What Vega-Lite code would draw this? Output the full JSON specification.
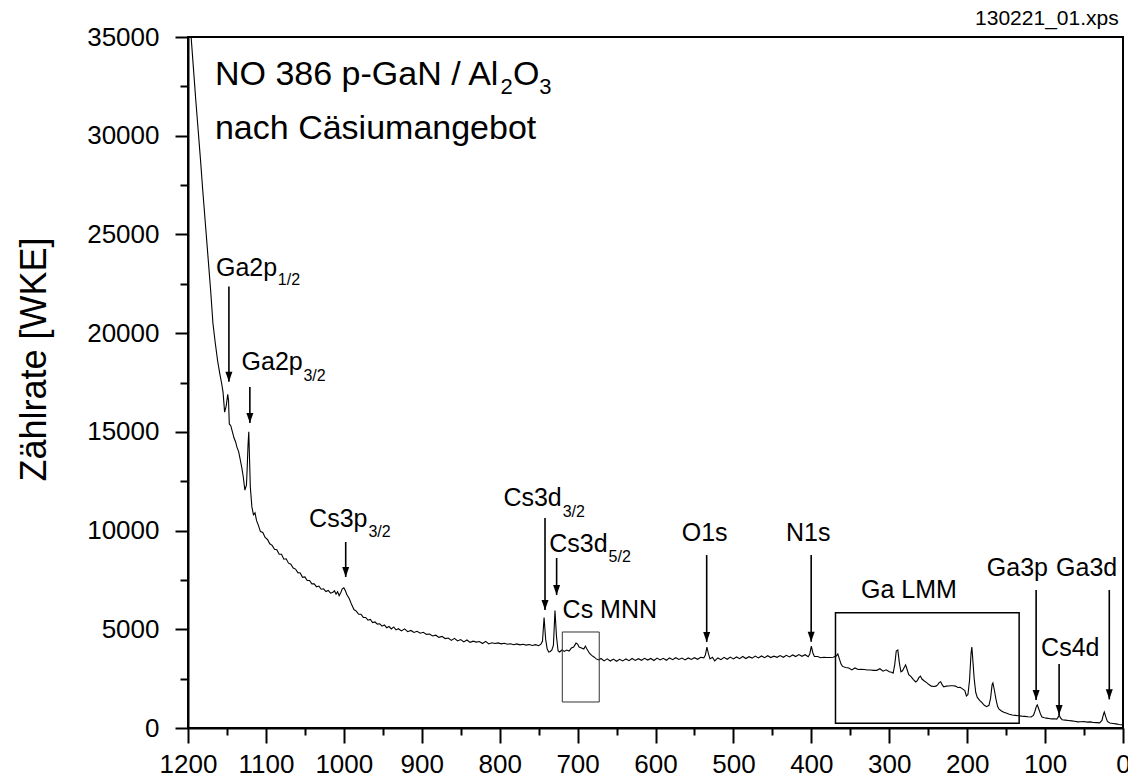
{
"$schema": "https://vega.github.io/schema/vega-lite/v6.json",
"width": 935, "height": 691,
"autosize": {"type": "none"},
"padding": {"left": 188, "top": 37, "right": 5, "bottom": 55},
"background": "white",
"config": {
  "view": {"stroke": "black", "strokeWidth": 2},
  "axis": {"grid": false, "domainColor": "black", "domainWidth": 2, "tickColor": "black", "tickWidth": 2, "labelColor": "black", "labelFont": "Liberation Sans", "labelFontSize": 26, "titleFont": "Liberation Sans", "titleColor": "black", "titleFontWeight": "normal"},
  "text": {"font": "Liberation Sans", "color": "black"}
},
"datasets": {
  "spectrum": [
{"E":1200,"v":37200},{"E":1198,"v":36000},{"E":1196,"v":35000},{"E":1193,"v":33400},{"E":1190,"v":31800},{"E":1187,"v":30300},{"E":1184,"v":28800},{"E":1181,"v":27200},{"E":1177,"v":25200},{"E":1174,"v":23700},{"E":1171,"v":22200},{"E":1168,"v":20500},{"E":1165,"v":19500},{"E":1162,"v":18600},{"E":1159,"v":17900},{"E":1157,"v":17500},{"E":1155,"v":17000},{"E":1153,"v":16000},{"E":1151,"v":16300},{"E":1149,"v":16900},{"E":1148,"v":16600},{"E":1147,"v":15400},{"E":1145,"v":15300},{"E":1143,"v":15000},{"E":1141,"v":14700},{"E":1139,"v":14500},{"E":1137,"v":14200},{"E":1135,"v":14000},{"E":1133,"v":13600},{"E":1131,"v":13200},{"E":1129,"v":12700},{"E":1127,"v":12050},{"E":1125,"v":12300},{"E":1124,"v":13200},{"E":1123,"v":14300},{"E":1122,"v":15000},{"E":1121,"v":13600},{"E":1120,"v":12200},{"E":1118,"v":11200},{"E":1116,"v":10800},{"E":1114,"v":10900},{"E":1112,"v":10500},{"E":1110,"v":10300},{"E":1107,"v":9950},{"E":1104,"v":9900},{"E":1101,"v":9650},{"E":1098,"v":9550},{"E":1095,"v":9330},{"E":1092,"v":9250},{"E":1089,"v":9050},{"E":1086,"v":9030},{"E":1083,"v":8800},{"E":1080,"v":8800},{"E":1077,"v":8550},{"E":1074,"v":8570},{"E":1071,"v":8350},{"E":1068,"v":8300},{"E":1065,"v":8100},{"E":1062,"v":8050},{"E":1059,"v":7870},{"E":1056,"v":7850},{"E":1053,"v":7630},{"E":1050,"v":7650},{"E":1047,"v":7470},{"E":1044,"v":7470},{"E":1041,"v":7300},{"E":1038,"v":7300},{"E":1035,"v":7150},{"E":1032,"v":7190},{"E":1029,"v":7030},{"E":1026,"v":7050},{"E":1023,"v":6910},{"E":1020,"v":6970},{"E":1017,"v":6830},{"E":1014,"v":6870},{"E":1012,"v":6950},{"E":1010,"v":6780},{"E":1008,"v":6900},{"E":1006,"v":6700},{"E":1004,"v":6850},{"E":1002,"v":7050},{"E":1000,"v":7100},{"E":998,"v":6950},{"E":996,"v":6750},{"E":993,"v":6550},{"E":990,"v":6250},{"E":987,"v":6000},{"E":984,"v":5920},{"E":981,"v":5760},{"E":978,"v":5760},{"E":975,"v":5600},{"E":972,"v":5600},{"E":969,"v":5460},{"E":966,"v":5500},{"E":963,"v":5340},{"E":960,"v":5370},{"E":957,"v":5260},{"E":954,"v":5280},{"E":951,"v":5160},{"E":948,"v":5220},{"E":945,"v":5080},{"E":942,"v":5140},{"E":939,"v":5020},{"E":936,"v":5120},{"E":933,"v":4970},{"E":930,"v":5030},{"E":926,"v":4920},{"E":922,"v":5020},{"E":918,"v":4880},{"E":914,"v":4940},{"E":910,"v":4840},{"E":906,"v":4900},{"E":902,"v":4800},{"E":898,"v":4850},{"E":894,"v":4740},{"E":890,"v":4760},{"E":886,"v":4660},{"E":882,"v":4700},{"E":878,"v":4590},{"E":874,"v":4640},{"E":870,"v":4530},{"E":866,"v":4560},{"E":862,"v":4440},{"E":858,"v":4540},{"E":854,"v":4410},{"E":850,"v":4480},{"E":846,"v":4360},{"E":842,"v":4460},{"E":838,"v":4340},{"E":834,"v":4400},{"E":830,"v":4350},{"E":826,"v":4380},{"E":822,"v":4280},{"E":818,"v":4390},{"E":814,"v":4260},{"E":810,"v":4320},{"E":806,"v":4280},{"E":802,"v":4310},{"E":798,"v":4260},{"E":794,"v":4290},{"E":790,"v":4240},{"E":786,"v":4270},{"E":782,"v":4220},{"E":778,"v":4260},{"E":774,"v":4210},{"E":770,"v":4240},{"E":766,"v":4200},{"E":762,"v":4230},{"E":758,"v":4180},{"E":754,"v":4220},{"E":750,"v":4170},{"E":747,"v":4250},{"E":745,"v":4400},{"E":743,"v":5600},{"E":741,"v":4500},{"E":739,"v":4000},{"E":737,"v":3850},{"E":735,"v":3880},{"E":733,"v":3950},{"E":731,"v":4200},{"E":729,"v":5950},{"E":727,"v":4600},{"E":725,"v":3900},{"E":723,"v":3850},{"E":720,"v":3950},{"E":717,"v":3880},{"E":714,"v":3950},{"E":711,"v":3900},{"E":708,"v":4050},{"E":705,"v":4100},{"E":702,"v":4300},{"E":700,"v":4250},{"E":698,"v":4100},{"E":695,"v":4050},{"E":692,"v":4000},{"E":690,"v":4150},{"E":688,"v":4000},{"E":685,"v":3800},{"E":682,"v":3680},{"E":679,"v":3600},{"E":676,"v":3500},{"E":673,"v":3450},{"E":670,"v":3520},{"E":666,"v":3400},{"E":662,"v":3500},{"E":658,"v":3390},{"E":654,"v":3490},{"E":650,"v":3380},{"E":646,"v":3480},{"E":642,"v":3400},{"E":638,"v":3500},{"E":634,"v":3410},{"E":630,"v":3520},{"E":626,"v":3420},{"E":622,"v":3510},{"E":618,"v":3430},{"E":614,"v":3530},{"E":610,"v":3440},{"E":606,"v":3520},{"E":602,"v":3420},{"E":598,"v":3540},{"E":594,"v":3450},{"E":590,"v":3530},{"E":586,"v":3430},{"E":582,"v":3550},{"E":578,"v":3460},{"E":574,"v":3560},{"E":570,"v":3470},{"E":566,"v":3540},{"E":562,"v":3450},{"E":558,"v":3550},{"E":554,"v":3470},{"E":550,"v":3560},{"E":546,"v":3480},{"E":542,"v":3580},{"E":538,"v":3550},{"E":536,"v":3700},{"E":534,"v":4100},{"E":532,"v":3750},{"E":530,"v":3500},{"E":527,"v":3580},{"E":524,"v":3400},{"E":520,"v":3550},{"E":516,"v":3460},{"E":512,"v":3580},{"E":508,"v":3480},{"E":504,"v":3590},{"E":500,"v":3500},{"E":496,"v":3600},{"E":492,"v":3510},{"E":488,"v":3620},{"E":484,"v":3520},{"E":480,"v":3610},{"E":476,"v":3540},{"E":472,"v":3640},{"E":468,"v":3550},{"E":464,"v":3650},{"E":460,"v":3560},{"E":456,"v":3660},{"E":452,"v":3570},{"E":448,"v":3640},{"E":444,"v":3580},{"E":440,"v":3670},{"E":436,"v":3580},{"E":432,"v":3680},{"E":428,"v":3600},{"E":424,"v":3700},{"E":420,"v":3620},{"E":416,"v":3720},{"E":412,"v":3630},{"E":408,"v":3710},{"E":404,"v":3610},{"E":402,"v":3750},{"E":400,"v":4150},{"E":398,"v":3800},{"E":396,"v":3620},{"E":392,"v":3620},{"E":388,"v":3560},{"E":384,"v":3580},{"E":380,"v":3570},{"E":376,"v":3570},{"E":372,"v":3580},{"E":368,"v":3640},{"E":366,"v":3750},{"E":364,"v":3500},{"E":362,"v":3250},{"E":360,"v":3120},{"E":356,"v":3060},{"E":352,"v":3040},{"E":348,"v":2940},{"E":344,"v":3040},{"E":340,"v":2960},{"E":336,"v":2970},{"E":332,"v":2960},{"E":328,"v":2940},{"E":324,"v":2940},{"E":320,"v":2920},{"E":316,"v":2920},{"E":312,"v":3000},{"E":308,"v":2880},{"E":304,"v":2950},{"E":300,"v":2850},{"E":297,"v":2820},{"E":295,"v":2780},{"E":293,"v":3200},{"E":291,"v":3900},{"E":289,"v":3950},{"E":287,"v":3300},{"E":285,"v":2850},{"E":283,"v":2900},{"E":281,"v":3050},{"E":279,"v":3200},{"E":277,"v":2950},{"E":275,"v":2700},{"E":272,"v":2600},{"E":269,"v":2450},{"E":266,"v":2330},{"E":264,"v":2400},{"E":262,"v":2550},{"E":260,"v":2630},{"E":258,"v":2480},{"E":255,"v":2380},{"E":252,"v":2300},{"E":249,"v":2200},{"E":246,"v":2120},{"E":243,"v":2100},{"E":240,"v":2120},{"E":238,"v":2180},{"E":236,"v":2300},{"E":234,"v":2340},{"E":232,"v":2180},{"E":230,"v":2080},{"E":227,"v":2120},{"E":224,"v":2130},{"E":221,"v":2140},{"E":218,"v":2140},{"E":215,"v":2120},{"E":212,"v":2050},{"E":209,"v":2060},{"E":206,"v":1980},{"E":203,"v":1900},{"E":201,"v":1620},{"E":199,"v":1700},{"E":197,"v":2400},{"E":195,"v":3800},{"E":194,"v":4100},{"E":193,"v":3600},{"E":191,"v":2500},{"E":189,"v":1800},{"E":187,"v":1550},{"E":184,"v":1400},{"E":181,"v":1280},{"E":178,"v":1150},{"E":175,"v":1080},{"E":172,"v":1150},{"E":170,"v":1500},{"E":168,"v":2200},{"E":167,"v":2280},{"E":165,"v":1900},{"E":163,"v":1450},{"E":161,"v":1100},{"E":159,"v":950},{"E":156,"v":860},{"E":153,"v":800},{"E":150,"v":760},{"E":146,"v":700},{"E":142,"v":660},{"E":138,"v":640},{"E":134,"v":620},{"E":130,"v":600},{"E":126,"v":590},{"E":122,"v":570},{"E":118,"v":560},{"E":115,"v":640},{"E":113,"v":850},{"E":111,"v":1120},{"E":110,"v":1170},{"E":108,"v":950},{"E":106,"v":720},{"E":104,"v":560},{"E":101,"v":520},{"E":98,"v":500},{"E":95,"v":480},{"E":92,"v":460},{"E":88,"v":470},{"E":85,"v":450},{"E":83,"v":560},{"E":82,"v":660},{"E":80,"v":500},{"E":78,"v":420},{"E":74,"v":400},{"E":70,"v":380},{"E":66,"v":360},{"E":62,"v":340},{"E":58,"v":310},{"E":54,"v":320},{"E":50,"v":330},{"E":46,"v":300},{"E":42,"v":310},{"E":38,"v":280},{"E":34,"v":270},{"E":30,"v":260},{"E":27,"v":380},{"E":25,"v":700},{"E":24,"v":810},{"E":22,"v":550},{"E":20,"v":330},{"E":17,"v":250},{"E":13,"v":230},{"E":9,"v":210},{"E":5,"v":180},{"E":0,"v":150}
  ],
  "arrows": [
{"E":1147.5,"top":22360,"tip":17540},{"E":1120.6,"top":17270,"tip":15450},{"E":997.6,"top":9420,"tip":7650},{"E":741.8,"top":10640,"tip":5980},{"E":726.9,"top":8610,"tip":6740},{"E":534.3,"top":8760,"tip":4360},{"E":400.2,"top":8760,"tip":4370},{"E":111.5,"top":6990,"tip":1420},{"E":82.0,"top":3240,"tip":660},{"E":17.6,"top":6990,"tip":1450}
  ],
  "boxes": [
{"name":"Ga LMM","E1":369,"E2":133.3,"v1":238,"v2":5840},
{"name":"Cs MNN","E1":719.6,"E2":672.2,"v1":1317,"v2":4863}
  ],
  "labels": [
{"E":1164.1,"v":22900,"t":"Ga2p"},{"E":1131.2,"v":18140,"t":"Ga2p"},{"E":1044.6,"v":10200,"t":"Cs3p"},{"E":795.2,"v":11260,"t":"Cs3d"},{"E":736.3,"v":8930,"t":"Cs3d"},{"E":719.2,"v":5560,"t":"Cs MNN"},{"E":566.3,"v":9470,"t":"O1s"},{"E":432.6,"v":9470,"t":"N1s"},{"E":336.2,"v":6570,"t":"Ga LMM"},{"E":174.8,"v":7700,"t":"Ga3p"},{"E":85.9,"v":7700,"t":"Ga3d"},{"E":105.1,"v":3650,"t":"Cs4d"}
  ],
  "subs": [
{"E":1084.7,"v":22440,"t":"1/2"},{"E":1051.8,"v":17580,"t":"3/2"},{"E":968.5,"v":9680,"t":"3/2"},{"E":719.1,"v":10700,"t":"3/2"},{"E":660.2,"v":8420,"t":"5/2"}
  ],
  "title": [
{"E":1165.4,"v":32570,"t":"NO 386 p-GaN / Al"},{"E":783.0,"v":32570,"t":"O"},{"E":1165.4,"v":29840,"t":"nach Cäsiumangebot"}
  ],
  "titleSub": [
{"E":799.0,"v":32120,"t":"2"},{"E":749.1,"v":32120,"t":"3"}
  ],
  "file": [
{"E":5.5,"v":35610,"t":"130221_01.xps"}
  ]
},
"layer": [
  {
    "data": {"name": "spectrum"},
    "mark": {"type": "line", "color": "black", "strokeWidth": 1.1, "clip": true},
    "encoding": {
      "x": {"field": "E", "type": "quantitative", "sort": null, "scale": {"domain": [0, 1200], "reverse": true, "nice": false, "zero": false},
        "axis": {"orient": "bottom", "values": [0,100,200,300,400,500,600,700,800,900,1000,1100,1200], "tickSize": 15, "labelPadding": 8, "title": null, "labelFlush": false, "labelOverlap": false, "format": "d"}},
      "y": {"field": "v", "type": "quantitative", "scale": {"domain": [0, 35000], "nice": false, "zero": false},
        "axis": {"orient": "left", "values": [0,5000,10000,15000,20000,25000,30000,35000], "tickSize": 13, "labelPadding": 16, "format": "d", "labelFlush": false, "labelOverlap": false,
          "title": "Zählrate [WKE]", "titleFontSize": 36, "titleX": -143, "titleY": 322, "titleAngle": -90, "titleAlign": "center", "titleBaseline": "alphabetic"}}
    }
  },
  {
    "data": {"name": "boxes"},
    "transform": [{"filter": "datum.name === 'Ga LMM'"}],
    "mark": {"type": "rect", "fillOpacity": 0, "stroke": "black", "strokeWidth": 1.5},
    "encoding": {
      "x": {"field": "E1", "type": "quantitative", "scale": {"domain": [0, 1200], "reverse": true, "nice": false, "zero": false},
        "axis": {"orient": "bottom", "values": [50,150,250,350,450,550,650,750,850,950,1050,1150], "tickSize": 7, "labels": false, "domain": false, "title": null}},
      "x2": {"field": "E2"},
      "y": {"field": "v1", "type": "quantitative", "scale": {"domain": [0, 35000], "nice": false, "zero": false},
        "axis": {"orient": "left", "values": [2500,7500,12500,17500,22500,27500,32500], "tickSize": 8, "labels": false, "domain": false, "title": null}},
      "y2": {"field": "v2"}
    }
  },
  {
    "data": {"name": "boxes"},
    "transform": [{"filter": "datum.name === 'Cs MNN'"}],
    "mark": {"type": "rect", "fillOpacity": 0, "stroke": "#333333", "strokeWidth": 1},
    "encoding": {
      "x": {"field": "E1", "type": "quantitative", "scale": {"domain": [0, 1200], "reverse": true, "nice": false, "zero": false}, "axis": null},
      "x2": {"field": "E2"},
      "y": {"field": "v1", "type": "quantitative", "scale": {"domain": [0, 35000], "nice": false, "zero": false}, "axis": null},
      "y2": {"field": "v2"}
    }
  },
  {
    "data": {"name": "arrows"},
    "mark": {"type": "rule", "color": "black", "strokeWidth": 1.6},
    "encoding": {
      "x": {"field": "E", "type": "quantitative", "scale": {"domain": [0, 1200], "reverse": true, "nice": false, "zero": false}, "axis": null},
      "y": {"field": "top", "type": "quantitative", "scale": {"domain": [0, 35000], "nice": false, "zero": false}, "axis": null},
      "y2": {"field": "tip"}
    }
  },
  {
    "data": {"name": "arrows"},
    "mark": {"type": "point", "shape": "M-0.35,-1L0.35,-1L0,0Z", "size": 400, "filled": true, "color": "black", "opacity": 1},
    "encoding": {
      "x": {"field": "E", "type": "quantitative", "scale": {"domain": [0, 1200], "reverse": true, "nice": false, "zero": false}, "axis": null},
      "y": {"field": "tip", "type": "quantitative", "scale": {"domain": [0, 35000], "nice": false, "zero": false}, "axis": null}
    }
  },
  {
    "data": {"name": "labels"},
    "mark": {"type": "text", "align": "left", "baseline": "alphabetic", "fontSize": 25, "font": "Liberation Sans", "color": "black"},
    "encoding": {
      "x": {"field": "E", "type": "quantitative", "scale": {"domain": [0, 1200], "reverse": true, "nice": false, "zero": false}, "axis": null},
      "y": {"field": "v", "type": "quantitative", "scale": {"domain": [0, 35000], "nice": false, "zero": false}, "axis": null},
      "text": {"field": "t"}
    }
  },
  {
    "data": {"name": "subs"},
    "mark": {"type": "text", "align": "left", "baseline": "alphabetic", "fontSize": 16, "font": "Liberation Sans", "color": "black"},
    "encoding": {
      "x": {"field": "E", "type": "quantitative", "scale": {"domain": [0, 1200], "reverse": true, "nice": false, "zero": false}, "axis": null},
      "y": {"field": "v", "type": "quantitative", "scale": {"domain": [0, 35000], "nice": false, "zero": false}, "axis": null},
      "text": {"field": "t"}
    }
  },
  {
    "data": {"name": "title"},
    "mark": {"type": "text", "align": "left", "baseline": "alphabetic", "fontSize": 34, "font": "Liberation Sans", "color": "black"},
    "encoding": {
      "x": {"field": "E", "type": "quantitative", "scale": {"domain": [0, 1200], "reverse": true, "nice": false, "zero": false}, "axis": null},
      "y": {"field": "v", "type": "quantitative", "scale": {"domain": [0, 35000], "nice": false, "zero": false}, "axis": null},
      "text": {"field": "t"}
    }
  },
  {
    "data": {"name": "titleSub"},
    "mark": {"type": "text", "align": "left", "baseline": "alphabetic", "fontSize": 22, "font": "Liberation Sans", "color": "black"},
    "encoding": {
      "x": {"field": "E", "type": "quantitative", "scale": {"domain": [0, 1200], "reverse": true, "nice": false, "zero": false}, "axis": null},
      "y": {"field": "v", "type": "quantitative", "scale": {"domain": [0, 35000], "nice": false, "zero": false}, "axis": null},
      "text": {"field": "t"}
    }
  },
  {
    "data": {"name": "file"},
    "mark": {"type": "text", "align": "right", "baseline": "alphabetic", "fontSize": 21, "font": "Liberation Sans", "color": "black"},
    "encoding": {
      "x": {"field": "E", "type": "quantitative", "scale": {"domain": [0, 1200], "reverse": true, "nice": false, "zero": false}, "axis": null},
      "y": {"field": "v", "type": "quantitative", "scale": {"domain": [0, 35000], "nice": false, "zero": false}, "axis": null},
      "text": {"field": "t"}
    }
  }
],
"resolve": {"axis": {"x": "independent", "y": "independent"}}
}
